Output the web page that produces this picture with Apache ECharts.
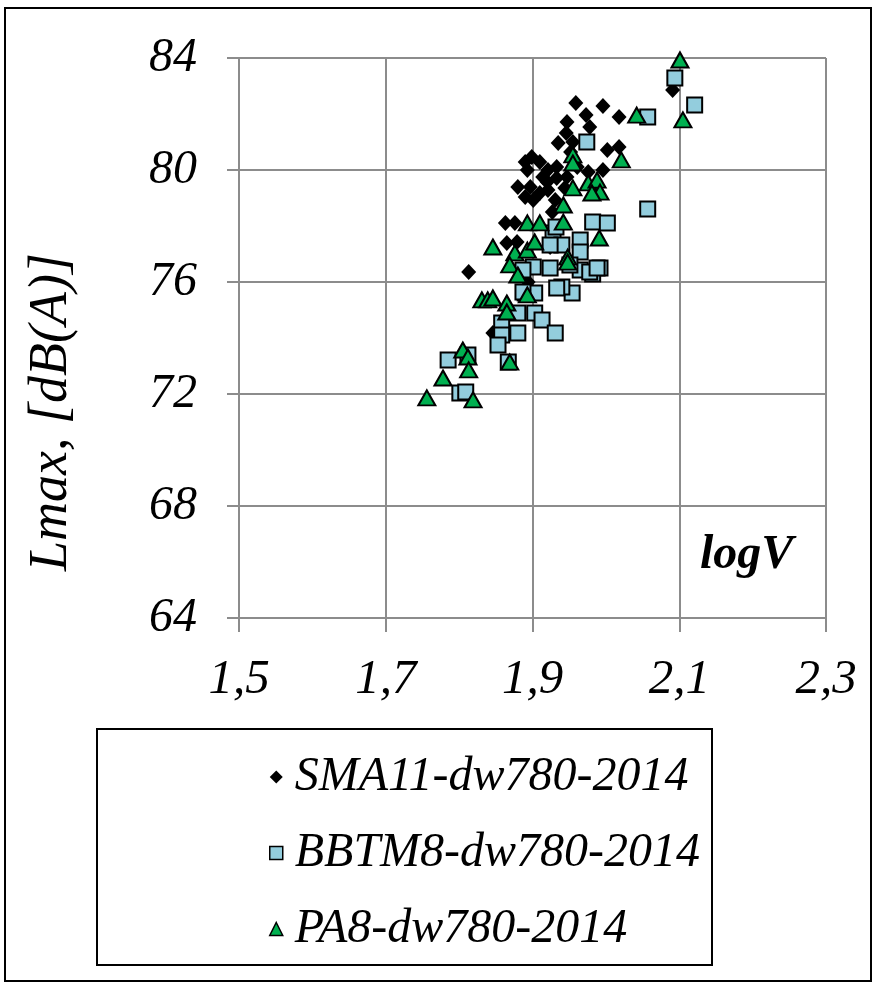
<!DOCTYPE html>
<html>
<head>
<meta charset="utf-8">
<script src="https://cdn.jsdelivr.net/npm/echarts@6/dist/echarts.min.js"></script>
<style>
  html, body { margin: 0; padding: 0; background: #fff; }
  #chart { width: 875px; height: 986px; }
</style>
</head>
<body>
<div id="chart"></div>
<script>
// logV, Lmax pairs
const sma11 = [
  [2.091, 82.86], [1.959, 82.39], [1.996, 82.29], [1.973, 81.96], [2.018, 81.89],
  [1.947, 81.71], [1.978, 81.54], [1.946, 81.32], [1.955, 81.0], [1.935, 80.96],
  [2.002, 80.71], [2.018, 80.82], [1.952, 80.64], [1.899, 80.46], [1.890, 80.29],
  [1.910, 80.29], [1.996, 80.0], [1.893, 80.0], [1.921, 80.0], [1.933, 80.11],
  [1.961, 80.11], [1.976, 79.93], [1.914, 79.75], [1.933, 79.71], [1.947, 79.75],
  [1.920, 79.57], [1.880, 79.39], [1.897, 79.39], [1.944, 79.36], [1.921, 79.29],
  [1.910, 79.18], [1.890, 79.04], [1.901, 78.93], [1.931, 78.93], [1.927, 78.5],
  [1.863, 78.11], [1.876, 78.11], [1.865, 77.39], [1.879, 77.43], [1.924, 77.25],
  [1.813, 76.36], [1.894, 76.0], [1.846, 74.18]
];
const bbtm8 = [
  [2.094, 83.29], [2.121, 82.32], [2.057, 81.89], [1.974, 81.0], [2.057, 78.61],
  [1.982, 78.14], [2.002, 78.11], [1.928, 77.75], [1.932, 77.96], [1.940, 77.32],
  [1.965, 77.5], [1.965, 77.07], [1.924, 77.32], [1.992, 76.5], [1.982, 76.29],
  [1.965, 76.43], [1.951, 76.61], [1.924, 76.5], [1.901, 76.54], [1.887, 76.43],
  [1.954, 75.61], [1.940, 75.82], [1.933, 75.79], [1.890, 75.61], [1.903, 75.61],
  [1.903, 74.89], [1.913, 74.64], [1.931, 74.18], [1.880, 74.89], [1.880, 74.18],
  [1.858, 74.54], [1.858, 74.11], [1.853, 73.75], [1.867, 73.14], [1.785, 73.21],
  [1.812, 73.39], [1.801, 72.04], [1.809, 72.07], [1.887, 75.64], [1.978, 76.36],
  [1.988, 76.5]
];
const pa8 = [
  [2.101, 83.93], [2.105, 81.79], [2.042, 81.96], [2.021, 80.36], [1.955, 80.54],
  [1.955, 80.25], [1.976, 79.54], [1.988, 79.64], [1.992, 79.21], [1.981, 79.18],
  [1.955, 79.36], [1.942, 78.75], [1.942, 78.14], [1.893, 78.11], [1.910, 78.11],
  [1.991, 77.57], [1.948, 76.89], [1.948, 76.71], [1.846, 77.25], [1.876, 77.04],
  [1.893, 77.14], [1.903, 77.43], [1.869, 76.61], [1.880, 76.25], [1.893, 75.54],
  [1.831, 75.36], [1.839, 75.36], [1.846, 75.43], [1.865, 75.25], [1.865, 74.93],
  [1.869, 73.14], [1.805, 73.57], [1.812, 73.32], [1.813, 72.86], [1.778, 72.57],
  [1.756, 71.86], [1.819, 71.79]
];
const seriesNames = ['SMA11-dw780-2014', 'BBTM8-dw780-2014', 'PA8-dw780-2014'];
const xRange = [1.5, 2.3];
const yRange = [64, 84];

const font = 'Liberation Serif';
const gridColor = '#8c8c8c';

const chart = echarts.init(document.getElementById('chart'));

chart.setOption({
  animation: false,
  backgroundColor: '#fff',
  grid: { left: 239, right: 49, top: 58, bottom: 368, containLabel: false },
  xAxis: {
    type: 'value',
    min: xRange[0],
    max: xRange[1],
    interval: 0.2,
    axisLine: { show: true, lineStyle: { color: gridColor, width: 2 } },
    axisTick: { show: true, length: 14, lineStyle: { color: gridColor, width: 2 } },
    splitLine: { show: true, lineStyle: { color: gridColor, width: 2 } },
    axisLabel: {
      margin: 38,
      color: '#000',
      fontFamily: font,
      fontStyle: 'italic',
      fontSize: 49,
      formatter: v => v.toFixed(1).replace('.', ',')
    }
  },
  yAxis: {
    type: 'value',
    min: yRange[0],
    max: yRange[1],
    interval: 4,
    axisLine: { show: true, lineStyle: { color: gridColor, width: 2 } },
    axisTick: { show: true, length: 12, lineStyle: { color: gridColor, width: 2 } },
    splitLine: { show: true, lineStyle: { color: gridColor, width: 2 } },
    axisLabel: {
      margin: 42,
      color: '#000',
      fontFamily: font,
      fontStyle: 'italic',
      fontSize: 48
    }
  },
  legend: {
    orient: 'vertical',
    left: 264,
    top: 748,
    itemGap: 28,
    itemWidth: 13,
    itemHeight: 13,
    textStyle: { color: '#000', fontFamily: font, fontStyle: 'italic', fontSize: 48, padding: [0, 0, 0, 7] },
    data: [
      { name: seriesNames[0], icon: 'diamond', itemStyle: { color: '#000', borderWidth: 0 } },
      { name: seriesNames[1], icon: 'rect', itemStyle: { color: '#93cddd', borderColor: '#000', borderWidth: 1.5 } },
      { name: seriesNames[2], icon: 'triangle', itemStyle: { color: '#00b050', borderColor: '#000', borderWidth: 1.5 } }
    ]
  },
  graphic: [
    {
      type: 'rect',
      shape: { x: 5, y: 8, width: 866, height: 973 },
      style: { fill: 'none', stroke: '#000', lineWidth: 2 },
      silent: true
    },
    {
      type: 'rect',
      shape: { x: 97, y: 729, width: 615, height: 236 },
      style: { fill: 'none', stroke: '#000', lineWidth: 2 },
      silent: true
    },
    {
      type: 'text',
      x: 52,
      y: 412,
      rotation: Math.PI / 2,
      style: {
        text: 'Lmax, [dB(A)]',
        fill: '#000',
        font: 'italic 54px "Liberation Serif"',
        align: 'center',
        verticalAlign: 'middle'
      }
    },
    {
      type: 'text',
      left: 700,
      top: 532,
      style: { text: 'logV', fill: '#000', font: 'italic bold 48px "Liberation Serif"' }
    }
  ],
  series: [
    {
      name: seriesNames[0],
      type: 'scatter',
      symbol: 'diamond',
      symbolSize: [15, 16],
      itemStyle: { color: '#000', opacity: 1 },
      data: sma11
    },
    {
      name: seriesNames[1],
      type: 'scatter',
      symbol: 'rect',
      symbolSize: 15,
      itemStyle: { color: '#93cddd', borderColor: '#000', borderWidth: 2, opacity: 1 },
      data: bbtm8
    },
    {
      name: seriesNames[2],
      type: 'scatter',
      symbol: 'triangle',
      symbolSize: [17, 15],
      itemStyle: { color: '#00b050', borderColor: '#000', borderWidth: 2, opacity: 1 },
      data: pa8
    }
  ]
});
</script>
</body>
</html>
